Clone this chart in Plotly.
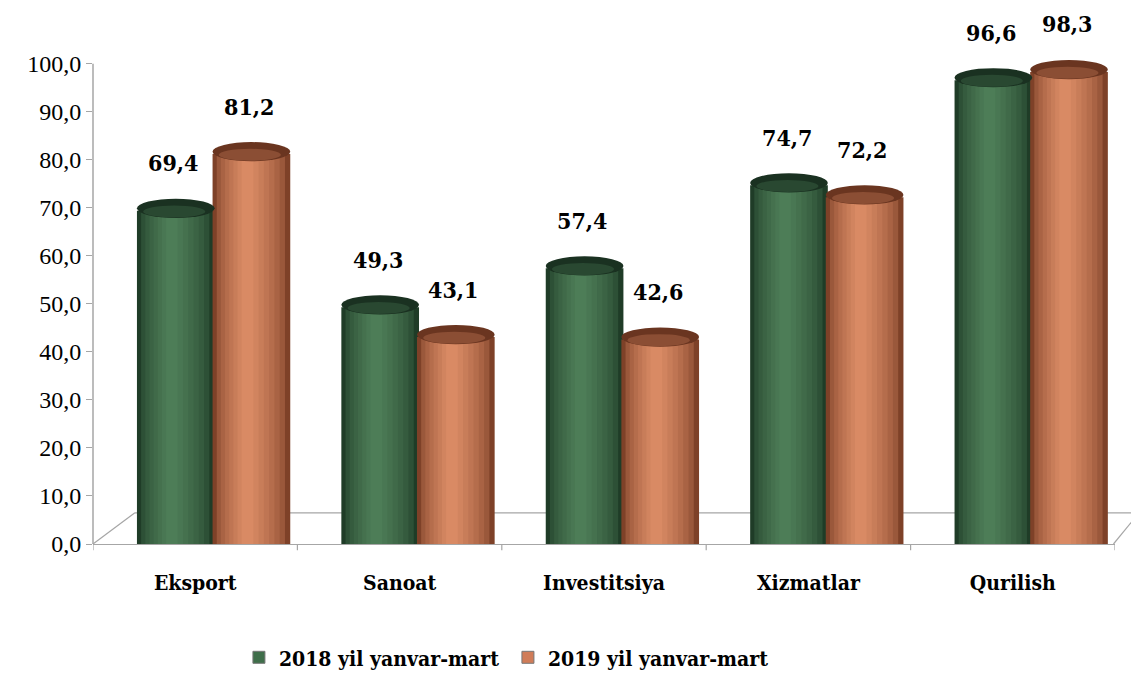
import plotly.graph_objects as go

categories = ["Eksport", "Sanoat", "Investitsiya", "Xizmatlar", "Qurilish"]
series_names = ["2018 yil yanvar-mart", "2019 yil yanvar-mart"]
values_2018 = [69.4, 49.3, 57.4, 74.7, 96.6]
values_2019 = [81.2, 43.1, 42.6, 72.2, 98.3]
y_ticks = [0, 10, 20, 30, 40, 50, 60, 70, 80, 90, 100]

FONT = "Liberation Serif"
FONT_B = "DejaVu Serif Condensed"

def lerp(c1, c2, t):
    a = [int(c1[i:i + 2], 16) for i in (1, 3, 5)]
    b = [int(c2[i:i + 2], 16) for i in (1, 3, 5)]
    return "#" + "".join(f"{round(x + (y - x) * t):02x}" for x, y in zip(a, b))

styles = [
    dict(vals=values_2018, dark="#1f3c27", light="#4d7d57", top="#1a3121", legend="#3f6e4a", off=-0.285),
    dict(vals=values_2019, dark="#7e4128", light="#d98a64", top="#6a3520", legend="#d07c58", off=0.085),
]
W = 0.38
N = 8
xs = list(range(len(categories)))
YMAX = 106

fig = go.Figure()
shapes = []
annotations = []

for s_idx, st in enumerate(styles):
    for k in range(N):
        t = k / (N - 1)
        width = W * (1 - 0.85 * t)
        shift = -0.05 * W * t
        offset = st["off"] + (W - width) / 2 + shift
        fig.add_trace(go.Bar(
            x=xs, y=st["vals"],
            width=[width] * len(xs), offset=[offset] * len(xs),
            marker=dict(color=lerp(st["dark"], st["light"], t ** 0.6), line=dict(width=0)),
            name=series_names[s_idx],
            showlegend=False, hoverinfo="skip",
        ))
    fig.add_trace(go.Bar(
        x=[None], y=[None], name=f"<b>{series_names[s_idx]}</b>",
        marker=dict(color=st["legend"], line=dict(color="#777777", width=1)),
        showlegend=True,
    ))
    for i, v in zip(xs, st["vals"]):
        x0 = i + st["off"]
        shapes.append(dict(type="circle", xref="x", yref="y",
                           x0=x0, x1=x0 + W, y0=v - 1.5, y1=v + 2.5,
                           fillcolor=st["top"], line=dict(width=0), layer="above"))
        shapes.append(dict(type="circle", xref="x", yref="y",
                           x0=x0 + W * 0.08, x1=x0 + W * 0.88, y0=v - 1.4, y1=v + 1.1,
                           fillcolor=lerp(st["top"], st["light"], 0.3), line=dict(width=0), layer="above"))
        annotations.append(dict(x=x0 + W * 0.47, y=v, xref="x", yref="y",
                                text=f"<b>{v:.1f}</b>".replace(".", ","),
                                showarrow=False, yshift=48,
                                font=dict(family=FONT_B, size=23, color="#000000")))

floor = dict(line=dict(color="#a6a6a6", width=1.2), xref="paper", yref="paper", layer="below")
shapes += [
    dict(type="line", x0=0, y0=0, x1=0.041, y1=0.0613, **floor),
    dict(type="line", x0=0.041, y0=0.0613, x1=1.0235, y1=0.0613, **floor),
    dict(type="line", x0=0.9985, y0=0, x1=1.0235, y1=0.0613, **floor),
]
shapes.append(dict(type="line", xref="paper", yref="y", x0=0, x1=0, y0=0, y1=max(y_ticks),
                   line=dict(color="#a6a6a6", width=1.5), layer="below"))
for b in range(len(categories) + 1):
    shapes.append(dict(type="line", xref="x", yref="paper", x0=b - 0.5, x1=b - 0.5,
                       y0=0, y1=-0.0123, line=dict(color="#a6a6a6", width=1.2)))

fig.update_layout(
    width=1131, height=669,
    margin=dict(l=85, r=24, t=27, b=133, autoexpand=False),
    paper_bgcolor="white", plot_bgcolor="white",
    barmode="overlay",
    separators=", ",
    shapes=shapes,
    annotations=annotations,
    showlegend=True,
    legend=dict(orientation="h", x=0.406, xanchor="center", y=-0.183, yanchor="top",
                font=dict(family=FONT_B, size=21, color="#000000"),
                entrywidth=224, itemwidth=30),
    font=dict(family=FONT, color="#000000"),
)
fig.update_xaxes(
    tickmode="array", tickvals=xs, ticktext=[f"<b>{c}</b>" for c in categories],
    range=[-0.5, len(categories) - 0.5],
    showline=True, linecolor="#a6a6a6", linewidth=1.2,
    ticks="", showgrid=False, zeroline=False,
    tickfont=dict(family=FONT_B, size=21, color="#000000"),
    ticklabelstandoff=20,
)
fig.update_yaxes(
    range=[0, YMAX], tickvals=y_ticks, tickformat=".1f",
    showline=False,
    ticks="outside", ticklen=6, tickcolor="#a6a6a6",
    showgrid=False, zeroline=False,
    tickfont=dict(family=FONT, size=24, color="#000000"),
)

fig.write_html("out.html")
